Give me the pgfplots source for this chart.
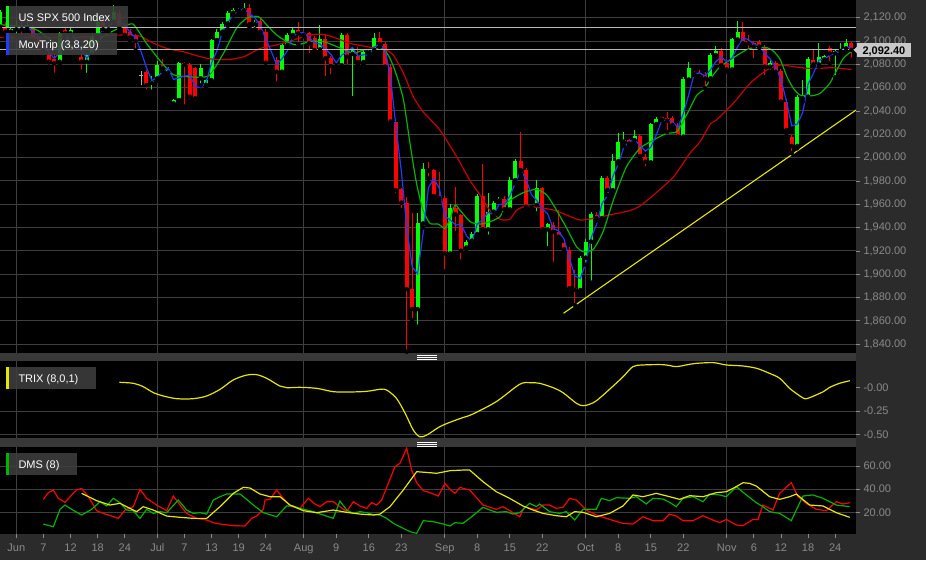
\documentclass[border=0pt]{standalone}
\usepackage{pgfplots}
\pgfplotsset{compat=1.18}
\usepackage{pgfplotstable}
\usepackage{fontspec}
\setmainfont{Liberation Sans}
\definecolor{bgc}{HTML}{2B2B2B}
\definecolor{sepc}{HTML}{383838}
\definecolor{gridc}{HTML}{3E3E3E}
\definecolor{tickc}{HTML}{8A8A8A}
\definecolor{cgreen}{HTML}{00FF00}
\definecolor{cred}{HTML}{FF0000}
\definecolor{magreen}{HTML}{00B400}
\definecolor{mared}{HTML}{C80000}
\definecolor{mablue}{HTML}{1E3CFF}
\definecolor{cyel}{HTML}{E6E600}
\definecolor{lboxc}{HTML}{3E3E3E}
\definecolor{pricec}{HTML}{C8C8C8}
\definecolor{hline}{HTML}{B8B8B8}

\pgfplotstableread{
i o h l c
-3 2112.3 2127 2110 2125
-1 2108 2111 2106 2110
0 2110 2118 2104 2112
2 2110.9 2117 2108 2113.7
8 2082.3 2108 2080 2106.6
10 2106.6 2112 2104 2109.5
11 2084.5 2086 2083 2085
13 2082.3 2090 2070.9 2088
14 2088 2106 2086 2104
15 2104 2119 2102 2116
17 2110 2113 2108 2112
18 2116.6 2131 2114 2125
25 2064 2070 2056.6 2066
26 2068 2083 2066 2079.4
28 2073 2078 2070 2075
29 2046.6 2050 2043.7 2049.4
30 2049.4 2082 2048 2080.9
34 2068 2080 2062 2076.6
35 2062.3 2067 2060 2066.6
36 2066.6 2102 2064 2100.9
37 2100.9 2110 2099 2108
38 2108 2116 2106 2114.6
39 2115.2 2126 2113 2124.3
40 2124.3 2128 2122 2126.6
41 2126 2128 2125 2127
42 2126.6 2133 2124 2128.5
44 2114.6 2118 2110 2116.6
49 2073.7 2098 2072 2096.6
50 2096.6 2107 2095 2105.2
51 2105.2 2111 2103 2109.5
56 2093 2114 2091 2102
59 2079 2081 2078 2080
60 2079.4 2107 2078 2105.2
62 2089 2094 2051 2092
64 2082 2092 2080 2090.6
65 2090 2092 2089 2091
66 2092.3 2106.6 2090 2103
74 1870.2 1952.2 1855 1943.6
75 1943.6 1995 1940 1990
80 1917.9 1960 1915 1957.1
83 1923 1929 1919.3 1928
84 1928.8 1936 1927 1934.5
85 1934.5 1969 1932 1967.1
87 1938.5 1969.4 1932.2 1953.7
88 1953.7 1963 1950 1960.8
89 1963 1966 1962 1964.5
91 1955.7 1983 1953 1980.8
92 1980.8 1999 1978 1997.1
96 1959.4 1980.8 1952.2 1973.6
98 1938.5 1944 1922.2 1942.8
104 1886.5 1916 1884 1914.2
105 1914.2 1930 1908 1928
106 1928 1953 1892.8 1951.6
108 1948 1984 1946 1982.2
110 1972.2 2003 1970 1997
111 1997 2020.8 1995 2013.7
112 2013.7 2022 2010 2015
114 2015 2024 2012 2018.5
117 1996 2030 1994 2028.8
118 2028.8 2035 2026 2032.8
123 2018 2069 2016 2067
124 2067 2082.3 2065 2076.6
128 2068 2090 2066 2088
129 2088 2096 2086 2091.4
132 2075.7 2103 2074 2101.4
133 2101.4 2117.4 2099 2108
139 2078 2083.7 2073.7 2080.9
144 2010 2054 2008 2052.3
145 2051 2066.6 2048 2052.5
146 2052.3 2086 2050 2084.3
148 2080 2097.9 2078 2086.6
149 2084.3 2088 2082 2087
151 2089.4 2093 2068.9 2091.5
152 2091.5 2098.6 2088 2093.5
153 2093.7 2101.4 2091 2098.6
}\upc

\pgfplotstableread{
i o h l c
-2 2112.3 2116 2104 2108
1 2112 2116 2103 2110
3 2112.3 2114 2095 2100.9
4 2101 2104 2090 2097
5 2096 2097 2090 2092
6 2088 2090 2078 2082.3
7 2085 2089 2071 2081
9 2109.5 2113 2104 2106.6
12 2086.6 2089 2073.7 2082.3
16 2116 2118 2106 2110
19 2124 2127 2110 2112
20 2112 2114 2102 2105.2
21 2108 2110 2100 2103
22 2104 2106 2092 2100
24 2073.7 2075 2056.6 2062.3
27 2079.4 2084.3 2074 2076.6
31 2081 2082.3 2043.7 2079.5
32 2079.4 2081 2048 2052.3
33 2076.6 2078 2047 2050.9
43 2128.5 2132 2112 2114.6
45 2117.5 2119 2106 2108
46 2108 2110 2078 2081.4
47 2085.2 2086 2083 2084.3
48 2083.5 2086 2063.5 2073.7
52 2109.5 2116.6 2097 2106.6
53 2106 2107 2104 2105
54 2106.6 2108 2088 2098
55 2102.3 2104 2090 2092.3
57 2101.5 2105.9 2068 2085.2
58 2085.2 2087 2070 2078.6
61 2105.2 2107 2078 2086.6
63 2087 2095 2080 2082
67 2102.6 2107.5 2095 2097.5
68 2097.5 2099 2076 2078
69 2078 2080 2029 2031
70 2030.8 2033 1968 1972.2
71 1972.8 1974 1955 1961.4
72 1961.4 1966.5 1833.6 1887.3
73 1887.3 1952.2 1860.7 1870.2
76 1990 1996.5 1982 1989
77 1989.4 1990 1965 1967.1
78 1966.5 1988 1963.6 1965.1
79 1965.1 1967 1902.2 1917.9
81 1957 1975.1 1935.1 1951.4
82 1950.8 1952 1910.8 1920.2
86 1967.1 1994.3 1936 1938.5
90 1964.5 1967 1952 1955.7
93 1997.1 2022.3 1986 1989.4
94 1989.4 1991 1955 1957.9
95 1958.5 1959 1956 1957.4
97 1973.6 1975 1936 1938.5
99 1942.2 1945 1908.8 1936.5
100 1936.5 1955 1929 1932.2
101 1926.5 1928 1919 1921.4
102 1920.8 1923 1884 1887.9
103 1887.9 1903.6 1873.6 1886.5
107 1951 1953 1946 1948
109 1982.2 1984 1968 1972.2
113 2015 2016 2010 2012
115 2018.5 2020 1999 2001.4
116 2000.8 2003 1990.8 1996.5
119 2034.5 2035 2032 2032.8
120 2033.7 2039.4 2022 2031.7
121 2033.7 2036 2025 2028
122 2028 2030 2015 2018
125 2073 2074 2071 2071.9
126 2072.4 2075 2068 2070
127 2070.6 2073.4 2059.4 2067.8
130 2091.4 2094 2077 2079.4
131 2081 2082 2074 2075.7
134 2108 2116.6 2096 2098
135 2100.3 2105 2091 2098
136 2098 2100 2083.7 2095.2
137 2099.5 2101 2094 2095.2
138 2095.2 2097 2068.9 2078
140 2080.9 2083 2071 2073.7
141 2074.6 2076 2046 2048
142 2048 2050 2021 2023.7
143 2017.9 2019 2003.7 2010
147 2084 2092.9 2078 2080
150 2093.7 2095.7 2080.9 2089.4
154 2098.6 2100 2084.3 2092.4
}\dnc

\pgfplotstableread{
i v
-1 2114.3
0 2110
1 2110.7
2 2112
3 2108.3
4 2104
5 2096.7
6 2090.4
7 2085.1
8 2090
9 2098.1
10 2107.6
11 2100.4
12 2092.3
13 2085.1
14 2091.4
15 2102.7
16 2110
17 2112.7
18 2115.7
19 2116.3
20 2114.3
21 2107
22 2103
23 2091
24 2077.3
25 2066
26 2069
27 2073.9
28 2076.9
29 2067
30 2068.4
31 2069.9
32 2070.9
33 2060.9
34 2059.9
35 2064.5
36 2081.2
37 2091.6
38 2108
39 2116
40 2122.2
41 2126.2
42 2127.4
43 2123.4
44 2119.9
45 2113.1
46 2102
47 2091.2
48 2079.8
49 2084.9
50 2091.8
51 2103.8
52 2107.1
53 2107
54 2103.2
55 2098.4
56 2097.4
57 2093.2
58 2088.6
59 2081.3
60 2087.9
61 2090.6
62 2094.6
63 2086.9
64 2088.2
65 2087.9
66 2094.9
67 2097.2
68 2092.8
69 2068.8
70 2027.1
71 1988.2
72 1940.3
73 1906.3
74 1900.4
75 1934.6
76 1974.2
77 1982
78 1973.7
79 1950
80 1946.7
81 1942.1
82 1942.9
83 1933.2
84 1927.6
85 1943.2
86 1946.7
87 1953.1
88 1951
89 1959.7
90 1960.3
91 1967
92 1977.9
93 1989.1
94 1981.5
95 1968.2
96 1963
97 1956.5
98 1951.6
99 1939.3
100 1937.2
101 1930
102 1913.8
103 1898.6
104 1896.2
105 1909.6
106 1931.3
107 1942.5
108 1960.6
109 1967.5
110 1983.8
111 1994.3
112 2008.6
113 2013.6
114 2015.2
115 2010.6
116 2005.5
117 2008.9
118 2019.4
119 2031.5
120 2032.4
121 2030.8
122 2025.9
123 2037.7
124 2053.9
125 2071.8
126 2072.8
127 2069.9
128 2075.3
129 2082.4
130 2086.3
131 2082.2
132 2085.5
133 2095
134 2102.5
135 2101.3
136 2097.1
137 2096.1
138 2089.5
139 2084.7
140 2077.5
141 2067.5
142 2048.5
143 2027.2
144 2028.7
145 2038.3
146 2063
147 2072.3
148 2083.6
149 2084.5
150 2087.7
151 2089.3
152 2091.5
153 2094.5
154 2094.8
}\maiii

\pgfplotsset{panel/.style={
  scale only axis, width=856pt, anchor=south west,
  xmin=-3.006, xmax=154.84,
  axis background/.style={fill=black},
  axis line style={draw=none},
  xtick={0,26,53,79,105,131},
  xmajorgrids, ymajorgrids,
  grid style={draw=gridc, line width=1pt},
  tick style={draw=tickc, line width=0.8pt},
  tick align=outside,
  major tick length=4pt,
  xtick pos=bottom,
  ytick pos=right, yticklabel pos=right,
  yticklabel style={font=\fontsize{11}{13}\selectfont, text=tickc, /pgf/number format/.cd, fixed, fixed zerofill, precision=2, 1000 sep={,}, assume math mode=true},
}}

\begin{document}
\begin{tikzpicture}[x=1pt,y=1pt]
\useasboundingbox (0,0) rectangle (926,560);
\fill[bgc] (0,0) rectangle (926,560);
\fill[sepc] (0,199) rectangle (856,207);
\fill[sepc] (0,113) rectangle (856,122);
\foreach \yy in {200.7,202.7,204.3,114,116,117.7} \draw[white, line width=0.9pt] (417,\yy) -- (437,\yy);

% ---------------- main panel
\begin{axis}[panel, at={(0pt,207pt)}, height=353pt,
  ymin=1832.44, ymax=2135.18,
  ytick={1840,1860,...,2120},
  xticklabels={}, xtick style={draw=none}]
\addplot[only marks, mark=none, error bars/.cd, y dir=plus, y explicit, error mark=none, error bar style={draw=cgreen, line width=1pt}]
  table[x=i, y=l, y error plus expr=\thisrow{h}-\thisrow{l}] {\upc};
\addplot[only marks, mark=none, error bars/.cd, y dir=plus, y explicit, error mark=none, error bar style={draw=cgreen, line width=4pt}]
  table[x=i, y=o, y error plus expr=\thisrow{c}-\thisrow{o}] {\upc};
\addplot[only marks, mark=none, error bars/.cd, y dir=plus, y explicit, error mark=none, error bar style={draw=cred, line width=1pt}]
  table[x=i, y=l, y error plus expr=\thisrow{h}-\thisrow{l}] {\dnc};
\addplot[only marks, mark=none, error bars/.cd, y dir=plus, y explicit, error mark=none, error bar style={draw=cred, line width=4pt}]
  table[x=i, y=c, y error plus expr=\thisrow{o}-\thisrow{c}] {\dnc};
\addplot[gray!60!white, line width=1pt] coordinates {(23,2062) (23,2074)};
\addplot[gray!60!white, line width=1pt] coordinates {(22.6,2070.3) (23.4,2070.3)};
% 20 MA
\addplot[mared, line width=1.2pt, smooth, tension=0.4] coordinates {
(-3,2103) (5,2103) (10,2103) (15,2104) (18,2105) (21,2105) (23,2104) (24.7,2099.4) (27.7,2093.7) (30.8,2090.8) (33.9,2086.6) (36.3,2084.3) (39.4,2084.3) (42,2086.6) (45,2093.7) (48,2096.6) (51.1,2100.9) (54.2,2105.2) (56.6,2105.7) (59.1,2102.3) (61.5,2098) (64.6,2095.2) (66.4,2093.7) (67.9,2092.9) (69.5,2088) (71.4,2072.3) (73.2,2052.3) (75,2039.4) (78.1,2023.7) (81.2,2000.8) (83.6,1980.8) (85.5,1968) (87.3,1955.1) (89.2,1947.1) (91,1947.1) (92.3,1955.1) (94.1,1958.5) (95.9,1957.4) (99,1955.1) (101.5,1950.8) (103.9,1946.5) (106.4,1947.9) (109.4,1950.8) (113.1,1954.5) (115,1958.5) (117.5,1967.9) (121.2,1983.6) (124.2,2003.7) (126.1,2013.7) (128,2029) (129.1,2032.2) (132.2,2046.5) (135.3,2063.7) (138.4,2075.1) (140.8,2079.4) (143.3,2078) (145.8,2076.6) (148.2,2076.6) (150.6,2077.1) (153.7,2075.7) (154,2075.5)};
% 8 MA
\addplot[magreen, line width=1.2pt, smooth, tension=0.4] coordinates {
(-3,2114) (0,2113) (2,2112) (4,2109) (6,2102) (8,2097) (10,2096) (12,2095) (14,2096) (16,2104) (18,2109) (20,2113) (21.5,2114.6) (22.8,2106.6) (24,2098) (25.9,2086.6) (27.7,2076.6) (29,2071) (31.4,2069.4) (33.9,2069) (35.7,2071) (38.2,2089.4) (40.6,2110.9) (42.5,2119.5) (44.6,2121) (46.2,2113.7) (48,2105.2) (49.9,2099.5) (51.7,2096.6) (54.2,2099.5) (56.6,2099.5) (59.1,2095.2) (60.3,2092.9) (62.2,2089.4) (64,2092.3) (65.8,2092.9) (67.7,2092.9) (68.9,2085.2) (70.1,2070.9) (71.4,2049.4) (72.6,2012) (73.8,1978) (75,1955) (76.3,1943.6) (77.8,1943) (79,1939.4) (79.9,1946.5) (80.9,1959.4) (81.8,1955) (83.7,1945) (85.5,1943) (87.3,1945) (89.2,1949.4) (90.4,1960.8) (91.6,1965.1) (93.5,1970) (95.9,1972.8) (97.8,1968) (99.6,1955.1) (101.5,1939.4) (103.3,1923.6) (104.6,1919.3) (106.4,1921.4) (108.2,1936.5) (110.1,1963.6) (112.5,1992) (115,2008) (117.5,2015.1) (119.9,2020.8) (121.8,2022.3) (123.6,2036.6) (125.5,2053.7) (126.7,2058) (128.5,2070.9) (129.8,2078) (131.6,2083.7) (133.5,2089.4) (135.3,2093.7) (138.4,2094.3) (139.7,2090.9) (140.9,2083.7) (142.1,2069.4) (143.3,2059.4) (144.5,2053.7) (146.4,2052.9) (148.2,2055.1) (150,2063.7) (151.3,2075.1) (152.5,2085.1) (153.7,2090) (154,2090.5)};
% 3 MA
\addplot[mablue, line width=1.2pt] table[x=i, y=v] {\maiii};
% trend line and price lines
\addplot[cyel, line width=1.1pt] coordinates {(100.9,1866.5) (154.85,2040.8)};
\addplot[hline, line width=1pt] coordinates {(-3.006,2111.8) (154.84,2111.8)};
\addplot[hline, line width=1pt] coordinates {(-3.006,2092.4) (154.84,2092.4)};
\end{axis}

% ---------------- TRIX panel
\begin{axis}[panel, at={(0pt,122pt)}, height=77pt,
  ymin=-0.5397, ymax=0.2865,
  ytick={-0.5,-0.25}, yticklabels={-0.50,-0.25},
  extra y ticks={0}, extra y tick labels={-0.00}, extra y tick style={grid=none},
  xticklabels={}, xtick style={draw=none}]
\addplot[cyel, line width=1.2pt, smooth, tension=0.5] coordinates {
(19.0,0.058) (21.6,0.047) (23.4,0.011) (25.3,-0.054) (27.1,-0.089) (29.6,-0.118) (32.6,-0.118) (35.1,-0.089) (37.6,-0.017) (40.0,0.083) (42.5,0.136) (44.3,0.140) (46.2,0.100) (48.6,0.018) (49.9,0.0) (52.3,0.004) (55.4,-0.007) (58.5,-0.043) (61.5,-0.046) (64.6,-0.039) (67.1,-0.017) (68.3,-0.025) (70.1,-0.114) (71.7,-0.275) (73.2,-0.454) (74.4,-0.526) (75.7,-0.508) (78.1,-0.418) (80.6,-0.357) (82.4,-0.320) (84.2,-0.282) (88.5,-0.150) (92.8,0.036) (94.7,0.054) (96.5,0.047) (99.0,0.0) (100.8,-0.053) (103.3,-0.168) (104.5,-0.193) (105.7,-0.178) (107.0,-0.139) (109.4,-0.017) (111.9,0.118) (113.7,0.226) (115.6,0.244) (119.3,0.247) (121.7,0.226) (123.5,0.244) (125.4,0.261) (128.5,0.269) (130.9,0.244) (134.0,0.233) (136.5,0.208) (138.9,0.154) (140.8,0.100) (142.6,-0.007) (144.5,-0.089) (145.4,-0.118) (146.3,-0.107) (148.8,-0.043) (150.0,0.004) (151.8,0.047) (153.7,0.075)};
\end{axis}

% ---------------- DMS panel
\begin{axis}[panel, at={(0pt,26pt)}, height=87pt,
  ymin=1.3, ymax=76.4,
  ytick={20,40,60},
  xticklabels={Jun,Jul,Aug,Sep,Oct,Nov},
  extra x ticks={5,10,15,20,31,36,41,46,59,65,71,85,91,97,111,117,123,136,141,146,151},
  extra x tick labels={7,12,18,24,7,13,19,24,9,16,23,8,15,22,8,15,22,6,12,18,24},
  extra x tick style={grid=none},
  xticklabel style={font=\fontsize{11}{13}\selectfont, text=tickc, yshift=-2pt}]
\addplot[cred, line width=1.2pt] coordinates {
(4.98,31.2) (5.91,37.0) (6.83,39.3) (7.75,32.1) (8.98,28.6) (10.2,35.0) (11.13,39.3) (12.05,40.7) (13.28,33.5) (14.82,21.4) (16.05,19.1) (17.58,16.8) (18.81,14.8) (20.04,22.0) (21.58,24.9) (22.81,39.85) (24.04,32.1) (25.88,26.3) (27.72,21.4) (28.95,34.1) (30.18,26.3) (31.41,19.1) (33.26,14.8) (35.1,13.4) (36.33,11.1) (37.56,9.9) (40.02,8.5) (42.17,8.2) (43.4,14.8) (44.32,16.8) (45.55,22.6) (45.86,30.6) (46.78,31.2) (48.01,39.3) (49.24,32.1) (50.47,25.5) (52.31,23.4) (53.85,32.1) (55.07,27.2) (56,24.9) (57.22,29.2) (58.45,29.2) (59.68,24.9) (60.91,20.6) (62.14,29.2) (63.37,25.5) (64.6,23.4) (65.52,28.3) (66.45,26.3) (67.37,30.6) (68.6,45.0) (69.83,59.4) (70.75,62.3) (71.98,75.3) (72.9,56.5) (73.83,45.6) (75.05,38.7) (76.28,37.0) (77.82,34.1) (79.05,45.0) (79.97,39.85) (80.9,36.4) (81.82,41.6) (82.37,40.7) (83.6,39.3) (86.05,26.3) (88.51,22.6) (89.74,24.9) (90.97,21.4) (92.82,16.2) (93.74,24.9) (95.89,22.0) (97.12,26.3) (98.35,26.3) (99.58,23.4) (100.81,24.3) (102.04,32.1) (103.27,30.6) (105.11,22.0) (106.95,17.7) (109.41,13.9) (111.87,10.5) (113.71,9.9) (115.56,16.2) (117.4,12.8) (119.25,12.8) (120.47,18.5) (121.7,16.8) (122.93,12.8) (124.78,12.8) (126.63,17.1) (128.16,13.9) (129.7,11.1) (130.93,13.9) (132.77,9.05) (134,8.5) (135.84,13.9) (136.77,13.9) (137.68,26.3) (139.53,22.0) (140.76,36.4) (142.91,45.6) (144.14,33.5) (145.68,27.8) (147.52,22.6) (149.37,21.4) (151.21,29.2) (152.44,27.2) (153.67,28.3)};
\addplot[magreen, line width=1.2pt] coordinates {
(4.98,9.9) (6.83,7.6) (8.06,22.6) (8.98,26.3) (10.2,22.6) (12.05,17.7) (13.9,22.6) (15.43,29.2) (16.66,25.5) (17.89,32.1) (19.12,28.3) (20.35,22.0) (21.58,21.4) (22.81,14.8) (24.04,22.6) (25.27,19.1) (26.5,20.6) (27.72,19.7) (29.87,30.6) (31.41,22.0) (32.64,19.1) (33.87,19.7) (35.1,18.5) (36.33,30.6) (37.56,33.5) (38.79,35.8) (41.25,35.8) (42.48,31.2) (43.71,26.3) (45.55,19.7) (48.01,16.2) (49.85,25.5) (51.08,25.5) (52.31,23.4) (54.77,20.6) (56.61,17.7) (58.45,14.8) (59.68,29.8) (60.91,22.0) (62.14,19.1) (63.37,20.6) (64.6,19.7) (65.83,18.0) (67.06,17.7) (68.29,14.8) (69.52,10.5) (70.75,7.6) (72.6,3.3) (73.83,1.85) (75.05,12.8) (76.9,11.9) (78.74,9.9) (79.97,8.2) (80.9,11.1) (82.37,10.5) (83.6,14.8) (86.05,24.3) (88.51,20.0) (90.36,20.6) (91.59,18.5) (92.82,19.7) (94.66,27.8) (95.89,24.9) (96.5,27.2) (98.35,20.6) (100.19,19.1) (101.42,20.6) (102.96,13.4) (104.49,22.6) (106.95,22.6) (107.87,32.1) (109.41,30.06) (110.64,32.65) (113.1,32.1) (114.33,33.5) (116.17,27.2) (117.4,32.1) (119.25,31.5) (120.47,28.6) (121.7,24.9) (122.93,32.1) (124.78,33.5) (126.63,29.2) (127.85,35.8) (129.7,35.0) (130.93,33.5) (132.77,42.2) (134.61,35.0) (136.46,28.3) (137.68,24.9) (138.91,20.6) (140.76,19.1) (142.91,12.8) (143.83,22.0) (145.06,34.1) (146.9,35.0) (148.75,32.1) (151.21,26.3) (153.67,24.9)};
\addplot[cyel, line width=1.2pt] coordinates {
(12.05,36.4) (14.82,30.06) (17.28,26.3) (19.12,27.8) (20.96,23.4) (22.19,20.6) (23.42,24.9) (25.27,22.0) (27.72,16.8) (30.18,15.7) (32.64,14.8) (35.1,14.8) (37.56,24.9) (40.02,36.4) (41.86,41.6) (43.09,41.0) (44.94,35.8) (46.78,33.5) (48.63,33.5) (50.47,26.3) (52.93,21.4) (55.38,19.7) (58.45,22.0) (60.91,20.0) (63.37,18.5) (65.83,17.7) (67.06,18.5) (68.91,24.9) (71.36,39.3) (73.83,55.1) (76.28,54.2) (77.51,53.7) (79.97,55.97) (82.37,56.5) (83.6,56.5) (86.05,46.5) (88.51,37.8) (90.97,32.1) (93.43,25.5) (95.27,22.0) (97.12,19.1) (99.58,17.1) (101.42,16.2) (102.96,20.6) (104.49,20.0) (106.95,16.2) (109.41,19.1) (111.87,25.5) (113.71,35.0) (115.56,33.5) (118.02,36.4) (120.47,33.5) (122.32,31.2) (124.16,34.4) (126.63,33.5) (129.08,37.0) (130.93,37.8) (132.77,42.2) (134,45.6) (135.23,45.0) (136.46,42.7) (138.91,33.5) (140.76,31.2) (142.6,33.5) (143.83,35.8) (146.29,26.3) (148.75,25.5) (151.21,19.7) (153.67,15.7)};
\end{axis}

% ---------------- legends and price label
\fill[lboxc, opacity=0.88] (6,532.7) rectangle (127.7,554);
\fill[cgreen] (6,532.7) rectangle (9,554);
\node[anchor=base west, inner sep=0, text=white, font=\fontsize{11}{13}\selectfont] at (18.3,538.3) {US SPX 500 Index};
\fill[lboxc, opacity=0.88] (6,505) rectangle (117,527);
\fill[mablue] (6,505) rectangle (9,527);
\node[anchor=base west, inner sep=0, text=white, font=\fontsize{11}{13}\selectfont] at (18.3,511.7) {MovTrip (3,8,20)};
\fill[lboxc, opacity=0.88] (6,171) rectangle (96,192.7);
\fill[cyel] (6,171) rectangle (9,192.7);
\node[anchor=base west, inner sep=0, text=white, font=\fontsize{11}{13}\selectfont] at (18.3,177.5) {TRIX (8,0,1)};
\fill[lboxc, opacity=0.88] (6,85) rectangle (77,107);
\fill[magreen] (6,85) rectangle (9,107);
\node[anchor=base west, inner sep=0, text=white, font=\fontsize{11}{13}\selectfont] at (18.3,91.7) {DMS (8)};
\fill[pricec] (853.5,510) -- (857,513.5) -- (857,506.5) -- cycle;
\fill[pricec] (857,502.7) rectangle (910.7,517.3);
\node[anchor=base, inner sep=0, text=black, font=\fontsize{11}{13}\selectfont\bfseries] at (883.9,505.5) {2,092.40};
\end{tikzpicture}
\end{document}
